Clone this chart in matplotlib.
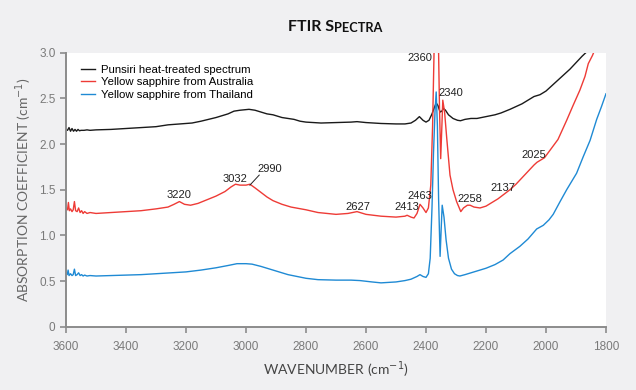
import numpy as np
import matplotlib
matplotlib.use('Agg')
import matplotlib.pyplot as plt

# Spectra (wavenumber in cm-1, absorption coefficient in cm-1)
black_wn = [3600, 3595, 3590, 3585, 3580, 3575, 3570, 3565, 3560, 3555, 3550, 3540, 3530, 3520, 3500,
            3450, 3400, 3350, 3300, 3260, 3220, 3180, 3150, 3100, 3060, 3040, 3020, 2990, 2970, 2950,
            2930, 2910, 2880, 2860, 2840, 2820, 2800, 2750, 2700, 2650, 2630, 2600, 2550, 2500, 2470,
            2450, 2435, 2422, 2410, 2400, 2390, 2380, 2372, 2366, 2360, 2353, 2347, 2342, 2335, 2325,
            2310, 2295, 2285, 2270, 2250, 2230, 2200, 2170, 2150, 2120, 2100, 2080, 2060, 2040, 2030,
            2020, 2000, 1980, 1960, 1940, 1920, 1900, 1880, 1864]
black_ab = [2.16, 2.15, 2.18, 2.14, 2.17, 2.14, 2.16, 2.14, 2.16, 2.145, 2.15, 2.15, 2.155, 2.15, 2.155,
            2.16, 2.17, 2.18, 2.19, 2.21, 2.22, 2.23, 2.25, 2.29, 2.33, 2.36, 2.37, 2.38, 2.37, 2.35,
            2.33, 2.32, 2.29, 2.28, 2.27, 2.25, 2.24, 2.23, 2.235, 2.24, 2.245, 2.235, 2.225, 2.22, 2.22,
            2.23, 2.26, 2.30, 2.26, 2.24, 2.26, 2.33, 2.40, 2.45, 2.42, 2.35, 2.36, 2.39, 2.37, 2.32,
            2.28, 2.26, 2.255, 2.27, 2.28, 2.28, 2.30, 2.32, 2.34, 2.38, 2.41, 2.44, 2.48, 2.52, 2.53,
            2.54, 2.58, 2.64, 2.70, 2.76, 2.82, 2.89, 2.96, 3.01]

red_wn = [3600, 3595, 3592, 3589, 3585, 3580, 3576, 3572, 3568, 3563, 3558, 3553, 3548, 3543, 3538,
          3530, 3520, 3500, 3450, 3400, 3350, 3300, 3260, 3240, 3222, 3205, 3185, 3160, 3130, 3100,
          3070, 3050, 3035, 3020, 3000, 2987, 2970, 2950, 2930, 2910, 2880, 2850, 2800, 2760, 2700,
          2660, 2630, 2600, 2550, 2500, 2470, 2463, 2450, 2440, 2430, 2420, 2410, 2400, 2392, 2384,
          2378, 2372, 2366, 2360, 2355, 2351, 2347, 2344, 2338, 2331, 2320, 2310, 2298, 2284, 2275,
          2262, 2253, 2240, 2220, 2200, 2180, 2160, 2140, 2120, 2100, 2080, 2060, 2040, 2030, 2020,
          2005, 1987, 1960, 1931, 1910, 1887, 1870, 1859, 1845, 1835]
red_ab = [1.30, 1.28, 1.36, 1.27, 1.29, 1.26, 1.28, 1.37, 1.27, 1.26, 1.30, 1.25, 1.27, 1.24, 1.26,
          1.24, 1.25, 1.24, 1.25, 1.26, 1.27, 1.29, 1.31, 1.34, 1.37, 1.34, 1.33, 1.35, 1.39, 1.43,
          1.48, 1.53, 1.56, 1.55, 1.55, 1.56, 1.52, 1.47, 1.42, 1.38, 1.34, 1.31, 1.28, 1.25, 1.23,
          1.24, 1.26, 1.23, 1.21, 1.20, 1.21, 1.22, 1.20, 1.19, 1.24, 1.34, 1.30, 1.25, 1.30, 1.55,
          2.20, 3.20, 3.40, 3.40, 2.40, 1.84, 2.20, 2.48, 2.35, 2.07, 1.66, 1.50, 1.37, 1.26, 1.30,
          1.33, 1.33, 1.31, 1.30, 1.32, 1.36, 1.40, 1.45, 1.50, 1.56, 1.63, 1.70, 1.77, 1.80, 1.82,
          1.85, 1.93, 2.05, 2.26, 2.42, 2.59, 2.74, 2.88, 2.97, 3.05]

blue_wn = [3600, 3596, 3593, 3590, 3585, 3580, 3576, 3572, 3568, 3563, 3558, 3553, 3548, 3543, 3538,
           3530, 3520, 3500, 3450, 3400, 3350, 3300, 3250, 3200, 3150, 3100, 3060, 3030, 3000, 2980,
           2950, 2920, 2890, 2860, 2830, 2800, 2760, 2700, 2650, 2620, 2580, 2550, 2500, 2470, 2450,
           2430, 2420, 2410, 2400, 2392, 2386, 2380, 2375, 2370, 2366, 2362, 2358, 2353, 2349, 2346,
           2340, 2333, 2325, 2315, 2305, 2295, 2287, 2270, 2250, 2230, 2200, 2170, 2143, 2120, 2087,
           2060, 2031, 2009, 1990, 1976, 1953, 1931, 1898, 1876, 1853, 1831, 1815, 1800]
blue_ab = [0.58, 0.57, 0.62, 0.56, 0.58, 0.56, 0.57, 0.63, 0.56, 0.57, 0.59, 0.56, 0.57, 0.555, 0.565,
           0.555, 0.56, 0.555, 0.56, 0.565, 0.57, 0.58, 0.59, 0.60, 0.62, 0.645, 0.67, 0.69, 0.69, 0.685,
           0.66, 0.63, 0.60, 0.57, 0.55, 0.53, 0.515, 0.51, 0.51, 0.505, 0.49, 0.48, 0.49, 0.505, 0.52,
           0.55, 0.57, 0.55, 0.54, 0.58, 0.75, 1.30, 1.90, 2.35, 2.57, 2.20, 1.40, 0.77, 1.10, 1.33,
           1.20, 0.95, 0.75, 0.63, 0.58, 0.56, 0.555, 0.57, 0.59, 0.61, 0.64, 0.68, 0.73, 0.80, 0.88,
           0.96, 1.07, 1.11, 1.17, 1.23, 1.37, 1.50, 1.68, 1.86, 2.04, 2.27, 2.41, 2.55]

series_labels = ['Punsiri heat-treated spectrum', 'Yellow sapphire from Australia',
                 'Yellow sapphire from Thailand']

# peak labels: text, x (cm-1), y
peak_labels = [('2360', 2420, 2.945), ('2340', 2317, 2.56), ('2463', 2420, 1.43),
               ('2413', 2465, 1.31), ('2627', 2628, 1.31), ('2258', 2255, 1.40),
               ('2137', 2145, 1.52), ('2025', 2042, 1.88), ('3220', 3222, 1.44),
               ('3032', 3037, 1.62), ('2990', 2920, 1.73)]

x_ticks = [3600, 3400, 3200, 3000, 2800, 2600, 2400, 2200, 2000, 1800]
y_ticks = [0, 0.5, 1.0, 1.5, 2.0, 2.5, 3.0]
y_ticklabels = ['0', '0.5', '1.0', '1.5', '2.0', '2.5', '3.0']

bg = '#f0f0f2'
grey = '#7a7a7a'
fig = plt.figure(figsize=(6.36, 3.9), dpi=100, facecolor=bg)
ax = fig.add_axes([0.1038, 0.1623, 0.849, 0.7026])
ax.set_facecolor('white')

ax.plot(black_wn, black_ab, color='#1a1a1a', lw=1.0, label=series_labels[0])
ax.plot(red_wn, red_ab, color='#ee3b36', lw=1.0, label=series_labels[1])
ax.plot(blue_wn, blue_ab, color='#1f8ad4', lw=1.0, label=series_labels[2])

ax.set_xlim(3600, 1800)
ax.set_ylim(0, 3.0)
ax.set_xticks(x_ticks)
ax.set_yticks(y_ticks)
ax.set_yticklabels(y_ticklabels)

for s in ['top', 'right']:
    ax.spines[s].set_visible(False)
for s in ['left', 'bottom']:
    ax.spines[s].set_color('#8c8c8c')
    ax.spines[s].set_linewidth(1.4)
ax.tick_params(colors='#8c8c8c', labelcolor=grey, length=4, width=1.2,
               labelsize=8.5, direction='out')
for lab in ax.get_xticklabels() + ax.get_yticklabels():
    lab.set_family('Liberation Sans')
ax.tick_params(axis='x', pad=6)

for txt, x, y in peak_labels:
    ax.text(x, y, txt, ha='center', va='center', fontsize=8, color='#222222',
            family='Liberation Sans')
ax.plot([2956, 2987], [1.66, 1.55], color='#222222', lw=0.7)

leg = ax.legend(loc='upper left', frameon=False, handlelength=1.3,
                handletextpad=0.5, labelspacing=0.25, borderaxespad=0.4,
                bbox_to_anchor=(0.01, 0.99), prop={'family': 'Liberation Sans', 'size': 8.2})

ax.set_xlabel('WAVENUMBER (cm$^{-1}$)', family='Lato', fontsize=10, color='#444444', labelpad=5)
ax.set_ylabel('ABSORPTION COEFFICIENT (cm$^{-1}$)', family='Lato', fontsize=10, color='#666666',
              labelpad=4)

# small-caps title made from two pieces
t1 = fig.text(288 / 636, 1 - 27 / 390, 'FTIR S', family='Lato', weight='bold', fontsize=11.5,
              color='#111111', ha='left', va='center')
fig.canvas.draw()
bb = t1.get_window_extent()
fig.text(bb.x1 / fig.bbox.width, 1 - 27.8 / 390, 'PECTRA', family='Lato', weight='bold',
         fontsize=9.2, color='#111111', ha='left', va='center')

fig.savefig('out.png', dpi=100, facecolor=bg)
